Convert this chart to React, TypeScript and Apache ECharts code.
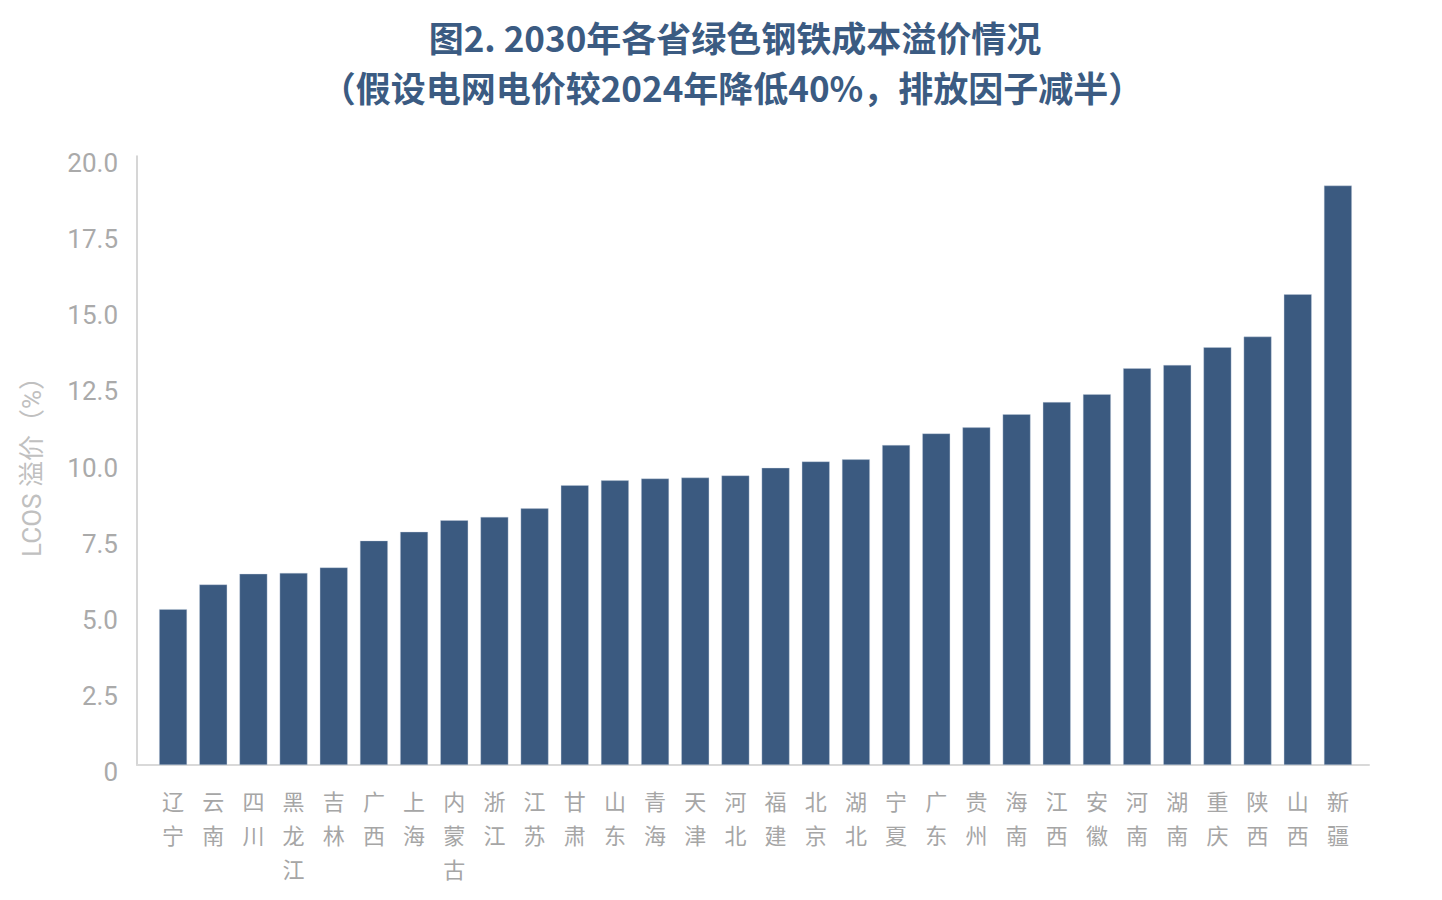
import React, { useEffect, useRef } from "react";
import * as echarts from "echarts";

const provinces = [
  "辽宁", "云南", "四川", "黑龙江", "吉林", "广西", "上海", "内蒙古", "浙江", "江苏",
  "甘肃", "山东", "青海", "天津", "河北", "福建", "北京", "湖北", "宁夏", "广东",
  "贵州", "海南", "江西", "安徽", "河南", "湖南", "重庆", "陕西", "山西", "新疆",
];
const premiumValues = [
  5.12, 5.93, 6.28, 6.31, 6.49, 7.37, 7.66, 8.04, 8.15, 8.43,
  9.19, 9.35, 9.41, 9.44, 9.51, 9.76, 9.97, 10.04, 10.51, 10.89,
  11.09, 11.52, 11.92, 12.18, 13.03, 13.14, 13.72, 14.07, 15.46, 19.03,
];
const titleLine1 = "图2. 2030年各省绿色钢铁成本溢价情况";
const titleLine2 = "（假设电网电价较2024年降低40%，排放因子减半）";
const yAxisName = "LCOS 溢价（%）";

export default function App() {
  const ref = useRef<HTMLDivElement>(null);
  useEffect(() => {
    document.body.style.margin = "0";
    const chart = echarts.init(ref.current!, undefined, { renderer: "svg" });
    chart.setOption({
      animation: false,
      backgroundColor: "#ffffff",
      graphic: [
        {
          type: "text",
          x: 735,
          y: 36,
          style: {
            text: titleLine1,
            fontSize: 35,
            fontWeight: "bold",
            fontFamily: "Noto Sans CJK SC",
            fill: "#3b5b82",
            align: "center",
            verticalAlign: "middle",
          },
        },
        {
          type: "text",
          x: 732,
          y: 86,
          style: {
            text: titleLine2,
            fontSize: 35,
            fontWeight: "bold",
            fontFamily: "Noto Sans CJK SC",
            fill: "#3b5b82",
            align: "center",
            verticalAlign: "middle",
          },
        },
      ],
      grid: [
        { left: 137, right: 73, top: 156, bottom: 135 },
        { left: 153, right: 84, top: 156, bottom: 135 },
      ],
      xAxis: [
        {
          type: "category",
          gridIndex: 0,
          data: provinces,
          axisLine: { show: true, lineStyle: { color: "#d9d9d9", width: 2 } },
          axisTick: { show: false },
          axisLabel: { show: false },
        },
        {
          type: "category",
          gridIndex: 1,
          data: provinces,
          axisLine: { show: false },
          axisTick: { show: false },
          axisLabel: {
            interval: 0,
            margin: 18,
            color: "#a6a6a6",
            fontSize: 22,
            lineHeight: 34,
            fontFamily: "Noto Sans CJK SC",
            formatter: (v: string) => v.split("").join("\n"),
          },
        },
      ],
      yAxis: [
        {
          type: "value",
          gridIndex: 0,
          min: 0,
          max: 20,
          interval: 2.5,
          name: yAxisName,
          nameLocation: "middle",
          nameGap: 92,
          nameRotate: 90,
          nameTextStyle: { color: "#c0c0c0", fontSize: 26, fontFamily: "Roboto, Noto Sans CJK SC" },
          axisLine: { show: true, lineStyle: { color: "#c8c8c8", width: 1.5 } },
          axisTick: { show: false },
          splitLine: { show: false },
          axisLabel: {
            margin: 19,
            color: "#aaaaaa",
            fontSize: 26,
            fontFamily: "Roboto",
            verticalAlign: "top",
            lineHeight: 14,
            formatter: (v: number) => (v === 0 ? "0" : v.toFixed(1)),
          },
        },
        {
          type: "value",
          gridIndex: 1,
          min: 0,
          max: 20,
          interval: 2.5,
          show: false,
          splitLine: { show: false },
        },
      ],
      series: [
        {
          type: "bar",
          xAxisIndex: 1,
          yAxisIndex: 1,
          data: premiumValues,
          barWidth: 28,
          itemStyle: { color: "#3b5a80", borderColor: "rgba(200,210,225,0.6)", borderWidth: 0.6 },
        },
      ],
    });
    return () => chart.dispose();
  }, []);
  return <div ref={ref} style={{ width: 1442, height: 900 }} />;
}
